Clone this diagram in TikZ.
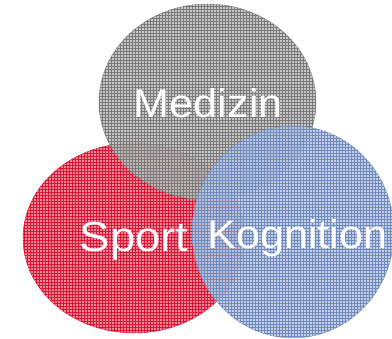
\documentclass[tikz,border=0pt]{standalone}
\usepackage{fontspec}
\setmainfont{Liberation Sans}
\usetikzlibrary{patterns}

\definecolor{sportrot}{RGB}{222,20,52}
\definecolor{medgrau}{RGB}{122,122,122}
\definecolor{kogblau}{RGB}{112,140,190}

\begin{document}
\begin{tikzpicture}[x=1pt, y=1pt]

 \useasboundingbox (0,0) rectangle (392,339);

	%draw circles
    \foreach \cx/\cy/\rx/\ry/\col/\op/\name in {134/101/111/95/sportrot/1/S, 207.5/237/108.5/98/medgrau/0.85/M, 293/107/101/106/kogblau/0.85/K}{
         \coordinate (\name) at (\cx,\cy);
         \fill[\col!50!white, fill opacity=\op] (\name) ellipse ({\rx} and {\ry});
         \fill[pattern=grid, pattern color=\col, fill opacity=\op] (\name) ellipse ({\rx} and {\ry});
         \draw[\col, thin, draw opacity=\op] (\name) ellipse ({\rx} and {\ry});
    }

	%draw labels
    \foreach \x/\y/\fs/\txt/\name in {134/87.3/42/Sport/tS, 208.3/221.7/40/Medizin/tM, 297.3/90.7/40/Kognition/tK}{
         \node[white, anchor=base, inner sep=0, xscale=1.08] (\name) at (\x,\y) {\fontsize{\fs}{\fs}\selectfont \txt};
    }

\end{tikzpicture}
\end{document}
